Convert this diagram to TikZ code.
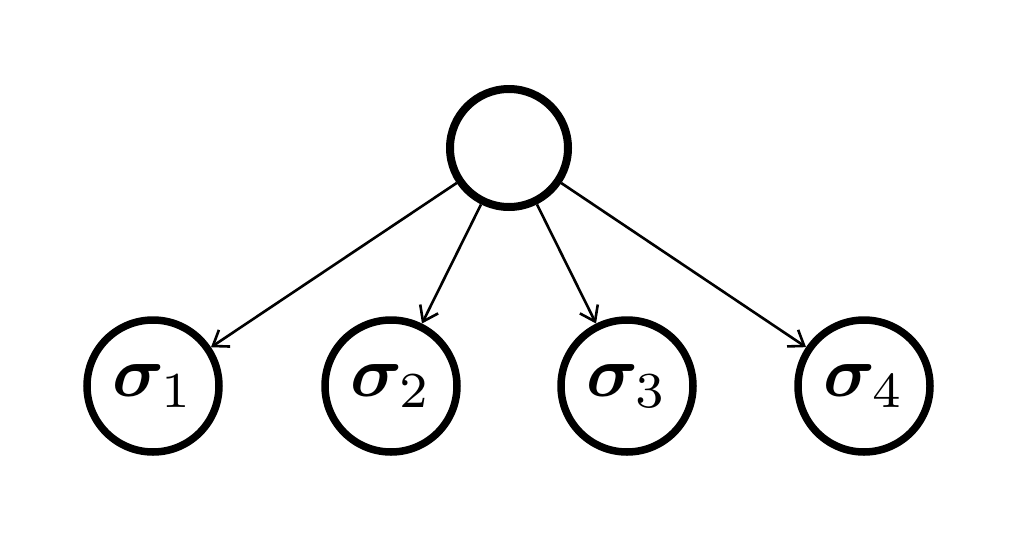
\documentclass[tikz,border=0pt]{standalone}
\usepackage{amsmath,bm}
\usetikzlibrary{arrows.meta}
\begin{document}
\begin{tikzpicture}[x=1pt,y=-1pt,
  topc/.style={circle,draw,line width=8pt,minimum size=118pt,inner sep=0pt},
  sig/.style={circle,draw,line width=7.5pt,minimum size=132pt,inner sep=0pt},
  arr/.style={line width=2.6pt,-{Straight Barb[length=14pt,width=20pt,line width=2.6pt]}}]
\useasboundingbox (0,0) rectangle (1018,541);
\node[topc] (t) at (509,148) {};
\node[sig] (s1) at (153,386) {\scalebox{7.2}{$\bm{\sigma}_1$}};
\node[sig] (s2) at (391,386) {\scalebox{7.2}{$\bm{\sigma}_2$}};
\node[sig] (s3) at (627,386) {\scalebox{7.2}{$\bm{\sigma}_3$}};
\node[sig] (s4) at (864,386) {\scalebox{7.2}{$\bm{\sigma}_4$}};
\foreach \s in {s1,s2,s3,s4} \draw[arr] (t) -- (\s);
\end{tikzpicture}
\end{document}
